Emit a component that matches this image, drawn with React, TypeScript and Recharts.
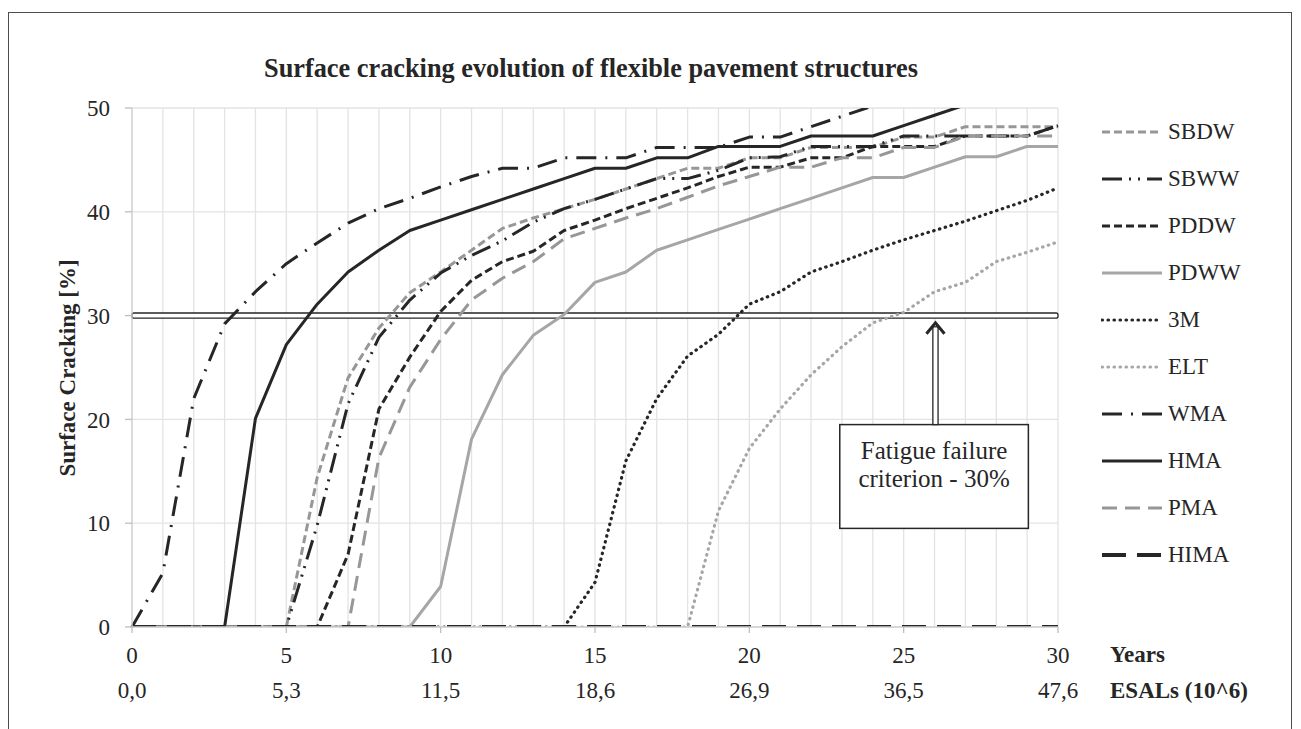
import React from 'react';
import { LineChart, Line, XAxis, YAxis, CartesianGrid, ReferenceLine, ReferenceArea } from 'recharts';

// years of service (x axis) and the matching cumulative ESALs labels
const years = [0, 1, 2, 3, 4, 5, 6, 7, 8, 9, 10, 11, 12, 13, 14, 15, 16, 17, 18, 19, 20, 21, 22, 23, 24, 25, 26, 27, 28, 29, 30];
const yearTicks = [0, 5, 10, 15, 20, 25, 30];
const esalLabels = ['0,0', '5,3', '11,5', '18,6', '26,9', '36,5', '47,6'];
const yTicks = [0, 10, 20, 30, 40, 50];

// surface cracking [%] per year
const sbdw = [0, 0, 0, 0, 0, 0, 14.4, 24, 28.8, 32.2, 34.2, 36.3, 38.4, 39.4, 40.3, 41.2, 42.2, 43.2, 44.2, 44.2, 45.2, 45.2, 46.2, 46.2, 46.2, 47.2, 47.2, 48.2, 48.2, 48.2, 48.2];
const sbww = [0, 0, 0, 0, 0, 0, 9.8, 21.5, 27.9, 31.5, 34.1, 35.8, 37.2, 39.0, 40.3, 41.2, 42.2, 43.2, 43.2, 44.0, 45.2, 45.3, 46.3, 46.3, 46.3, 47.3, 47.3, 47.3, 47.3, 47.3, 48.3];
const pddw = [0, 0, 0, 0, 0, 0, 0, 7.0, 21.0, 26.0, 30.4, 33.4, 35.2, 36.2, 38.2, 39.2, 40.3, 41.3, 42.3, 43.4, 44.3, 44.3, 45.2, 45.2, 46.3, 46.3, 46.3, 47.3, 47.3, 47.3, 48.3];
const pdww = [0, 0, 0, 0, 0, 0, 0, 0, 0, 0, 3.9, 18.1, 24.3, 28.1, 30.1, 33.2, 34.2, 36.3, 37.3, 38.3, 39.3, 40.3, 41.3, 42.3, 43.3, 43.3, 44.3, 45.3, 45.3, 46.3, 46.3];
const m3 = [0, 0, 0, 0, 0, 0, 0, 0, 0, 0, 0, 0, 0, 0, 0, 4.3, 16.0, 22.0, 26.1, 28.2, 31.1, 32.3, 34.2, 35.2, 36.3, 37.3, 38.2, 39.1, 40.1, 41.1, 42.3];
const elt = [0, 0, 0, 0, 0, 0, 0, 0, 0, 0, 0, 0, 0, 0, 0, 0, 0, 0, 0, 11.2, 17.2, 21.0, 24.3, 27.0, 29.3, 30.3, 32.3, 33.2, 35.2, 36.1, 37.1];
const wma = [0, 5.2, 22.0, 29.2, 32.3, 35.0, 37.0, 38.9, 40.3, 41.3, 42.4, 43.4, 44.2, 44.2, 45.2, 45.2, 45.2, 46.2, 46.2, 46.2, 47.2, 47.2, 48.2, 49.2, 50.2, 51.2, 52.2, 53.2, 54.2, 55.2, 56.2];
const hma = [0, 0, 0, 0, 20.1, 27.2, 31.1, 34.2, 36.3, 38.2, 39.2, 40.2, 41.2, 42.2, 43.2, 44.2, 44.2, 45.2, 45.2, 46.3, 46.3, 46.3, 47.3, 47.3, 47.3, 48.3, 49.3, 50.3, 51.3, 52.3, 53.3];
const pma = [0, 0, 0, 0, 0, 0, 0, 0, 16.3, 23.1, 27.7, 31.5, 33.6, 35.2, 37.4, 38.4, 39.4, 40.3, 41.4, 42.5, 43.4, 44.3, 44.3, 45.2, 45.2, 46.2, 46.2, 47.3, 47.3, 47.3, 47.3];
const hima = [0, 0, 0, 0, 0, 0, 0, 0, 0, 0, 0, 0, 0, 0, 0, 0, 0, 0, 0, 0, 0, 0, 0, 0, 0, 0, 0, 0, 0, 0, 0];

const criterion = 30;

const FONT = '"Liberation Serif", "Times New Roman", serif';
const INK = '#262626';
const GRAY = '#979797';
const LIGHT = '#a6a6a6';

const data = years.map((y, i) => ({
  year: y,
  SBDW: sbdw[i], SBWW: sbww[i], PDDW: pddw[i], PDWW: pdww[i], '3M': m3[i],
  ELT: elt[i], WMA: wma[i], HMA: hma[i], PMA: pma[i], HIMA: hima[i],
}));

const series = [
  { key: 'SBDW', color: GRAY, dash: '8 4', width: 3 },
  { key: 'SBWW', color: INK, dash: '20 7 2 7 2 7', width: 3 },
  { key: 'PDDW', color: INK, dash: '8 4', width: 3 },
  { key: 'PDWW', color: LIGHT, dash: undefined, width: 3 },
  { key: '3M', color: INK, dash: '0.5 5.5', width: 3.2, round: true },
  { key: 'ELT', color: LIGHT, dash: '0.5 5.5', width: 3.2, round: true },
  { key: 'WMA', color: INK, dash: '20 9 2 9', width: 3 },
  { key: 'HMA', color: INK, dash: undefined, width: 3 },
  { key: 'PMA', color: GRAY, dash: '15 8', width: 3 },
  { key: 'HIMA', color: INK, dash: '24 11', width: 4 },
];

function YearTick(props: any) {
  const { x, y, payload } = props;
  const v = payload.value;
  const i = yearTicks.indexOf(v);
  if (i < 0) return <g />;
  const txt = { fontFamily: FONT, fontSize: 23, fill: INK, textAnchor: 'middle' as const, dominantBaseline: 'central' as const };
  return (
    <g>
      <line x1={x} x2={x} y1={y} y2={y + 6} stroke="#bfbfbf" strokeWidth={1.3} />
      <text x={x} y={y + 28} {...txt}>{v}</text>
      <text x={x} y={y + 63} {...txt}>{esalLabels[i]}</text>
      {v === 30 && (
        <>
          <text x={x + 52} y={y + 27} {...txt} textAnchor="start" fontWeight="bold">Years</text>
          <text x={x + 52} y={y + 63} {...txt} textAnchor="start" fontWeight="bold">ESALs (10^6)</text>
        </>
      )}
    </g>
  );
}

function CriterionLine(props: any) {
  const { x1, x2, y1 } = props;
  return <rect x={x1} y={y1 - 2.6} width={x2 - x1} height={5.2} rx={2} fill="#fff" stroke={INK} strokeWidth={1.3} />;
}

function Arrow(props: any) {
  const { x1, y1, y2 } = props;
  const top = Math.min(y1, y2);
  const bottom = Math.max(y1, y2);
  return (
    <g>
      <rect x={x1 - 2.6} y={top + 6} width={5.2} height={bottom - top - 6} fill="#fff" stroke={INK} strokeWidth={1.3} />
      <polyline points={`${x1 - 9},${top + 13} ${x1},${top + 2} ${x1 + 9},${top + 13}`} fill="none" stroke={INK} strokeWidth={3} />
    </g>
  );
}

function NoteBox(props: any) {
  const { x, y, width, height } = props;
  const cx = x + width / 2;
  const t = { fontFamily: FONT, fontSize: 25, fill: INK, textAnchor: 'middle' as const, dominantBaseline: 'central' as const };
  return (
    <g>
      <rect x={x} y={y} width={width} height={height} fill="#fff" stroke={INK} strokeWidth={1.5} />
      <text x={cx} y={y + 26} {...t}>Fatigue failure</text>
      <text x={cx} y={y + 54} {...t}>criterion - 30%</text>
    </g>
  );
}

function LegendBox() {
  return (
    <div style={{ position: 'absolute', left: 1101, top: 108.5, fontFamily: FONT, fontSize: 23, color: INK }}>
      {series.map(s => (
        <div key={s.key} style={{ display: 'flex', alignItems: 'center', height: 47 }}>
          <svg width={62} height={10} style={{ marginRight: 5 }}>
            <line x1={1} x2={61} y1={5} y2={5} stroke={s.color} strokeWidth={s.width}
              strokeDasharray={s.dash} strokeLinecap={s.round ? 'round' : 'butt'} />
          </svg>
          <span>{s.key}</span>
        </div>
      ))}
    </div>
  );
}

export default function App() {
  return (
    <div style={{ position: 'absolute', left: 0, top: 0, width: 1301, height: 729, overflow: 'hidden', background: '#fff' }}>
      <div style={{ position: 'absolute', left: 8, top: 12, width: 1282, height: 740, border: '1.5px solid #4d4d4d' }} />
      <div style={{ position: 'absolute', left: 591, top: 69, transform: 'translate(-50%, -50%)', whiteSpace: 'nowrap',
        fontFamily: FONT, fontWeight: 'bold', fontSize: 26.3, color: INK }}>
        Surface cracking evolution of flexible pavement structures
      </div>
      <div style={{ position: 'absolute', left: 68, top: 368, transform: 'translate(-50%, -50%) rotate(-90deg)', whiteSpace: 'nowrap',
        fontFamily: FONT, fontWeight: 'bold', fontSize: 23, color: INK }}>
        Surface Cracking [%]
      </div>
      <div style={{ position: 'absolute', left: 0, top: 0 }}>
        <LineChart width={1301} height={729} data={data} margin={{ top: 108, right: 243, bottom: 72, left: 72 }}>
          <CartesianGrid stroke="#e3e3e3" strokeWidth={1.3} />
          <XAxis dataKey="year" type="number" domain={[0, 30]} ticks={years} interval={0} height={30}
            tick={<YearTick />} tickLine={false} tickSize={0} tickMargin={0} axisLine={{ stroke: '#d0d0d0', strokeWidth: 1.3 }} />
          <YAxis type="number" domain={[0, 50]} ticks={yTicks} allowDataOverflow width={60} tickSize={7} tickMargin={15}
            tick={{ fontFamily: FONT, fontSize: 23, fill: INK }} tickLine={{ stroke: '#bfbfbf', strokeWidth: 1.3 }}
            axisLine={{ stroke: '#d0d0d0', strokeWidth: 1.3 }} />
          <ReferenceLine y={criterion} shape={<CriterionLine />} />
          <ReferenceLine segment={[{ x: 26.03, y: 19.5 }, { x: 26.03, y: 29.5 }]} shape={<Arrow />} />
          <ReferenceArea x1={22.93} x2={29.04} y1={9.5} y2={19.5} shape={<NoteBox />} />
          {series.map(s => (
            <Line key={s.key} dataKey={s.key} stroke={s.color} strokeWidth={s.width} strokeDasharray={s.dash}
              strokeLinecap={s.round ? 'round' : 'butt'} strokeLinejoin="round" dot={false} activeDot={false}
              type="linear" isAnimationActive={false} />
          ))}
        </LineChart>
      </div>
      <LegendBox />
    </div>
  );
}
